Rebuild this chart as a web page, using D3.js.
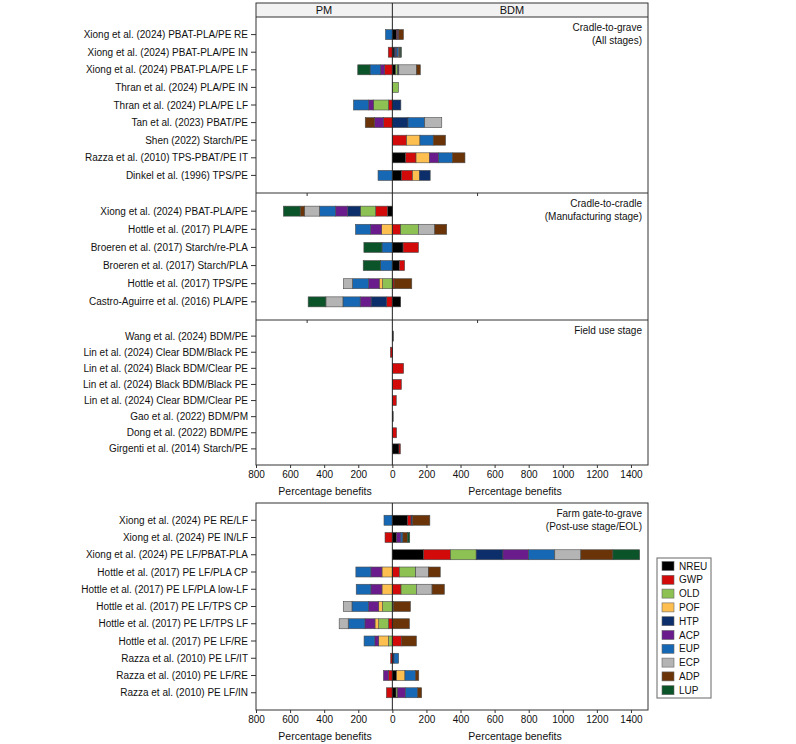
<!DOCTYPE html>
<html>
<head>
    <title>Percentage benefits BDM vs PM</title>
    <script src="https://d3js.org/d3.v7.min.js"></script>
    <style>
        body { margin: 0; background: #fff; }
        text { font-family: "Liberation Sans", Arial, sans-serif; fill: #111; }
    </style>
</head>
<body>
    <div id="chart"></div>

    <script>
        // Impact categories (stack order, from zero outward)
        const keys = ["NREU", "GWP", "OLD", "POF", "HTP", "ACP", "EUP", "ECP", "ADP", "LUP"];
        const colors = ["#000000", "#d20a0a", "#8dc153", "#fcbf50", "#0c2f6c", "#6a1b8c", "#1768b4", "#b4b4b4", "#6a3408", "#0b5429"];

        // Cradle-to-grave
        const p1Labels = [
            "Xiong et al. (2024) PBAT-PLA/PE RE",
            "Xiong et al. (2024) PBAT-PLA/PE IN",
            "Xiong et al. (2024) PBAT-PLA/PE LF",
            "Thran et al. (2024) PLA/PE IN",
            "Thran et al. (2024) PLA/PE LF",
            "Tan et al. (2023) PBAT/PE",
            "Shen (2022) Starch/PE",
            "Razza et al. (2010) TPS-PBAT/PE IT",
            "Dinkel et al. (1996) TPS/PE"
        ];
        // NREU, GWP, OLD, POF, HTP, ACP, EUP, ECP, ADP, LUP
        const p1Values = [
            [25, 4, 0, 0, 0, 8, -40, 0, 28, 0],
            [10, -24, 0, 0, 8, 8, 10, 6, 5, 6],
            [20, -46, 12, 0, 6, -25, -60, 104, 22, -72],
            [0, 0, 36, 0, 0, 0, 0, 0, 0, 0],
            [0, -23, -88, 0, 50, -29, -88, 0, 0, 0],
            [0, -51, 0, 0, 92, -53, 98, 100, -55, 0],
            [0, 84, 0, 78, 0, 0, 78, 0, 72, 0],
            [78, 61, 0, 78, 0, 55, 80, 0, 74, 0],
            [55, 63, 0, 41, 63, 0, -84, 0, 0, 0]
        ];

        // Cradle-to-cradle
        const p2Labels = [
            "Xiong et al. (2024) PBAT-PLA/PE",
            "Hottle et al. (2017) PLA/PE",
            "Broeren et al. (2017) Starch/re-PLA",
            "Broeren et al. (2017) Starch/PLA",
            "Hottle et al. (2017) TPS/PE",
            "Castro-Aguirre et al. (2016) PLA/PE"
        ];
        const p2Values = [
            [-29, -69, -90, 0, -74, -72, -94, -88, -25, -98],
            [0, 49, 104, -63, 0, -65, -88, 96, 70, 0],
            [63, 90, 0, 0, 0, 0, -61, 0, 0, -106],
            [41, 31, 0, 0, 0, 0, -69, 0, 0, -102],
            [0, 10, -57, -20, 0, -63, -94, -53, 104, 0],
            [49, -33, 0, 0, -92, -64, -101, -100, 0, -104]
        ];

        // Field use stage
        const p3Labels = [
            "Wang et al. (2024) BDM/PE",
            "Lin et al. (2024) Clear BDM/Black PE",
            "Lin et al. (2024) Black BDM/Clear PE",
            "Lin et al. (2024) Black BDM/Black PE",
            "Lin et al. (2024) Clear BDM/Clear PE",
            "Gao et al. (2022) BDM/PM",
            "Dong et al. (2022) BDM/PE",
            "Girgenti et al. (2014) Starch/PE"
        ];
        const p3Values = [
            [6, 0, 0, 0, 0, 0, 0, 0, 0, 0],
            [0, -12, 0, 0, 0, 0, 0, 0, 0, 0],
            [0, 66, 0, 0, 0, 0, 0, 0, 0, 0],
            [0, 53, 0, 0, 0, 0, 0, 0, 0, 0],
            [0, 23, 0, 0, 0, 0, 0, 0, 0, 0],
            [5, 0, 0, 0, 0, 0, 0, 0, 0, 0],
            [0, 25, 0, 0, 0, 0, 0, 0, 0, 0],
            [39, 8, 0, 0, 0, 0, 0, 0, 0, 0]
        ];

        // Farm gate-to-grave
        const p4Labels = [
            "Xiong et al. (2024) PE RE/LF",
            "Xiong et al. (2024) PE IN/LF",
            "Xiong et al. (2024) PE LF/PBAT-PLA",
            "Hottle et al. (2017) PE LF/PLA CP",
            "Hottle et al. (2017) PE LF/PLA low-LF",
            "Hottle et al. (2017) PE LF/TPS CP",
            "Hottle et al. (2017) PE LF/TPS LF",
            "Hottle et al. (2017) PE LF/RE",
            "Razza et al. (2010) PE LF/IT",
            "Razza et al. (2010) PE LF/RE",
            "Razza et al. (2010) PE LF/IN"
        ];
        const p4Values = [
            [90, 20, 0, 0, 8, 0, -49, 0, 102, 0],
            [25, -43, 0, 0, 0, 25, 12, 0, 26, 14],
            [184, 157, 151, 0, 157, 151, 153, 153, 188, 157],
            [0, 41, 96, -61, 0, -65, -88, 74, 70, 0],
            [0, 51, 90, -61, 0, -65, -86, 92, 72, 0],
            [0, 6, -58, -22, 0, -60, -97, -51, 100, 0],
            [0, -23, -57, -22, 0, -59, -98, -53, 100, 0],
            [0, 55, -23, -57, 0, -23, -63, 0, 86, 0],
            [0, -10, 0, 0, 10, 0, 27, 0, 0, 0],
            [25, -23, 0, 49, 0, -29, 63, 0, 18, 0],
            [22, -35, 8, 0, 0, 47, 72, 0, 23, 0]
        ];

        const xTicks = [-800, -600, -400, -200, 0, 200, 400, 600, 800, 1000, 1200, 1400];

        const width = 796, height = 744;
        const left = 256, right = 648;
        const barH = 10;

        const svg = d3.select("#chart").append("svg")
            .attr("width", width)
            .attr("height", height);

        const x = d3.scaleLinear().domain([-800, 1500]).range([left, right]);
        const color = d3.scaleOrdinal().domain(keys).range(colors);

        const panels = [
            { labels: p1Labels, values: p1Values, top: 17, bottom: 193, note: ["Cradle-to-grave", "(All stages)"] },
            { labels: p2Labels, values: p2Values, top: 193, bottom: 320, note: ["Cradle-to-cradle", "(Manufacturing stage)"] },
            { labels: p3Labels, values: p3Values, top: 320, bottom: 465, note: ["Field use stage"] },
            { labels: p4Labels, values: p4Values, top: 503, bottom: 710, note: ["Farm gate-to-grave", "(Post-use stage/EOL)"] }
        ];

        // strip header
        svg.append("rect")
            .attr("x", left).attr("y", 3)
            .attr("width", right - left).attr("height", 14)
            .attr("fill", "#f2f2f2");
        svg.append("text").attr("x", 324).attr("y", 14)
            .attr("text-anchor", "middle").attr("font-size", 11).text("PM");
        svg.append("text").attr("x", 512).attr("y", 14)
            .attr("text-anchor", "middle").attr("font-size", 11).text("BDM");

        const stack = d3.stack().keys(keys).offset(d3.stackOffsetDiverging);

        panels.forEach(p => {
            const y = d3.scalePoint().domain(p.labels).range([p.top, p.bottom]).padding(1);
            const rows = p.labels.map((l, i) => {
                const o = { label: l };
                keys.forEach((k, j) => o[k] = p.values[i][j]);
                return o;
            });
            const series = stack(rows);

            const g = svg.append("g");
            g.selectAll("g.series")
                .data(series)
                .join("g")
                .attr("fill", s => color(s.key))
                .selectAll("rect")
                .data(s => s.filter(d => d[1] !== d[0]))
                .join("rect")
                .attr("x", d => x(d[0]))
                .attr("width", d => x(d[1]) - x(d[0]))
                .attr("y", d => y(d.data.label) - barH / 2)
                .attr("height", barH)
                .attr("stroke", "#4a4a4a")
                .attr("stroke-width", 0.6);

            // row labels and ticks
            g.selectAll("line.yt")
                .data(p.labels)
                .join("line")
                .attr("x1", left - 5).attr("x2", left)
                .attr("y1", d => y(d)).attr("y2", d => y(d))
                .attr("stroke", "#333");
            g.selectAll("text.yl")
                .data(p.labels)
                .join("text")
                .attr("x", left - 8)
                .attr("y", d => y(d))
                .attr("dy", "0.35em")
                .attr("text-anchor", "end")
                .attr("font-size", 10)
                .text(d => d);

            // panel note
            p.note.forEach((t, i) => {
                g.append("text")
                    .attr("x", right - 6)
                    .attr("y", p.top + 14 + i * 13)
                    .attr("text-anchor", "end")
                    .attr("font-size", 10)
                    .text(t);
            });
        });

        // frames
        svg.append("rect").attr("x", left).attr("y", 3)
            .attr("width", right - left).attr("height", 465 - 3)
            .attr("fill", "none").attr("stroke", "#333");
        svg.append("rect").attr("x", left).attr("y", 503)
            .attr("width", right - left).attr("height", 710 - 503)
            .attr("fill", "none").attr("stroke", "#333");
        [17, 193, 320].forEach(yy => {
            svg.append("line").attr("x1", left).attr("x2", right)
                .attr("y1", yy).attr("y2", yy).attr("stroke", "#333");
        });
        // small ticks on panel separators
        [193, 320].forEach(yy => {
            [-500, 500].forEach(v => {
                svg.append("line").attr("x1", x(v)).attr("x2", x(v))
                    .attr("y1", yy).attr("y2", yy + 3).attr("stroke", "#333");
            });
        });

        // zero lines
        svg.append("line").attr("x1", x(0)).attr("x2", x(0))
            .attr("y1", 3).attr("y2", 465).attr("stroke", "#222");
        svg.append("line").attr("x1", x(0)).attr("x2", x(0))
            .attr("y1", 503).attr("y2", 710).attr("stroke", "#222");

        // x axes
        [465, 710].forEach(yy => {
            const ax = svg.append("g")
                .attr("transform", `translate(0,${yy})`)
                .call(d3.axisBottom(x).tickValues(xTicks).tickFormat(d => Math.abs(d))
                    .tickSize(3).tickSizeOuter(0).tickPadding(3));
            ax.select(".domain").remove();
            ax.selectAll("text").attr("font-size", 10)
                .attr("font-family", "Liberation Sans, Arial, sans-serif").attr("fill", "#111");
            ax.selectAll("line").attr("stroke", "#333");
            svg.append("text").attr("x", 325).attr("y", yy + 30)
                .attr("text-anchor", "middle").attr("font-size", 10.5).text("Percentage benefits");
            svg.append("text").attr("x", 515).attr("y", yy + 30)
                .attr("text-anchor", "middle").attr("font-size", 10.5).text("Percentage benefits");
        });

        // legend
        const lg = svg.append("g");
        lg.append("rect").attr("x", 657).attr("y", 558)
            .attr("width", 54).attr("height", 140)
            .attr("fill", "#fff").attr("stroke", "#666");
        keys.forEach((k, i) => {
            const yy = 566 + i * 13.8;
            lg.append("rect").attr("x", 662).attr("y", yy - 4.5)
                .attr("width", 12).attr("height", 9)
                .attr("fill", color(k)).attr("stroke", "#666").attr("stroke-width", 0.6);
            lg.append("text").attr("x", 679).attr("y", yy).attr("dy", "0.35em")
                .attr("font-size", 10).text(k);
        });
    </script>
</body>
</html>
